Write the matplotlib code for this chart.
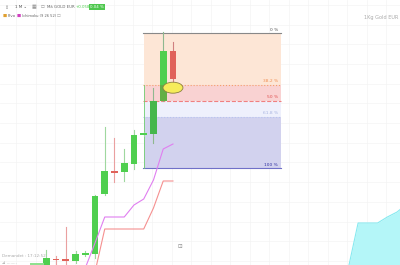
import matplotlib
matplotlib.use('Agg')
import numpy as np
from matplotlib import pyplot as plt
from matplotlib.patches import Ellipse, Rectangle

# candles (index, open, high, low, close)
bar_idx = list(range(14))
opens  = [1647, 1656.5, 1656, 1654, 1660, 1661, 1721, 1744, 1743, 1751, 1779.7, 1781, 1814, 1864]
highs  = [1665, 1659, 1688, 1664, 1664, 1720, 1788, 1777, 1766, 1785, 1783, 1827, 1883, 1873]
lows   = [1645, 1650, 1646, 1652, 1659, 1657, 1720, 1733, 1734, 1746, 1779, 1772, 1814, 1828]
closes = [1657, 1655, 1654, 1661, 1662, 1719, 1744, 1742.5, 1752, 1780, 1782, 1814, 1864, 1836]

# ichimoku lines
tenkan_idx = [4, 5, 6, 7, 8, 9, 10, 11, 12, 13]
tenkan = [1647, 1672, 1698, 1698, 1698, 1710, 1716, 1735, 1766, 1771]
kijun_idx = [5, 6, 7, 8, 9, 10, 11, 12, 13]
kijun = [1643, 1686, 1686, 1686, 1686, 1686, 1707, 1734, 1734]
cloud_idx = [31, 32, 33, 34, 35, 36, 37]
cloud_top = [1647, 1692, 1692, 1692, 1698, 1703, 1711]

# fibonacci retracement
fib_top, fib_bottom = 1881.7, 1746.7
fib_x0, fib_x1 = 10.0, 24.1
fib_levels = [0, 0.382, 0.5, 0.618, 1.0]
fib_labels = ['0 %', '38.2 %', '50 %', '61.8 %', '100 %']
fib_line_colors = ['#888888', '#f4a06a', '#f08080', '#b8c4ee', '#7070c8']
fib_text_colors = ['#555555', '#f08c50', '#e05050', '#a8b4e0', '#3030a0']
fib_zone_colors = ['#fde6d6', '#f9d2d2', '#eef0fc', '#d2d2ee']

fig = plt.figure(figsize=(4, 2.65), dpi=100)
ax = fig.add_axes([0, 0, 1, 1])
ax.set_xlim(-4.75, 36.3)
ax.set_ylim(1650, 1915)
ax.set_axis_off()

# grid
for gx in np.arange(-5.1, 37, 2.0):
    ax.axvline(gx, color='#f4f4f4', lw=0.5, zorder=0)
for gy in np.arange(1654, 1916, 19.7):
    ax.axhline(gy, color='#f4f4f4', lw=0.5, zorder=0)

# fib zones
prices = [fib_top - r * (fib_top - fib_bottom) for r in fib_levels]
for k in range(4):
    ax.add_patch(Rectangle((fib_x0, prices[k + 1]), fib_x1 - fib_x0, prices[k] - prices[k + 1],
                           facecolor=fib_zone_colors[k], edgecolor='none', zorder=1))
styles = ['-', ':', '--', ':', '-']
for p, col, st, lab, tc in zip(prices, fib_line_colors, styles, fib_labels, fib_text_colors):
    ax.plot([fib_x0 - 0.1, fib_x1], [p, p], color=col, lw=0.8, ls=st, zorder=2)
    ax.text(fib_x1 - 0.3, p + 1.5, lab, color=tc, fontsize=3.2, ha='right', va='bottom', zorder=7)
ax.plot([fib_x0, fib_x0], [fib_bottom, fib_top - 0.382 * (fib_top - fib_bottom)],
        color='#6fcf6f', lw=0.6, zorder=2)

# candles
for i, o, h, l, c in zip(bar_idx, opens, highs, lows, closes):
    up = c >= o
    body = '#4fcf4f' if up else '#e0625a'
    wick = '#9fd89f' if up else '#eaa0a0'
    if i >= 11:
        wick = '#8fb88f' if up else '#d08080'
    ax.plot([i, i], [l, h], color=wick, lw=0.8, zorder=3)
    ax.add_patch(Rectangle((i - 0.35, min(o, c)), 0.7, max(abs(c - o), 1.2),
                           facecolor=body, edgecolor='none', zorder=4))
# darker part of bodies inside the lower zones
ax.add_patch(Rectangle((11 - 0.35, opens[11]), 0.7, closes[11] - opens[11],
                       facecolor='#3a9a4a', alpha=0.45, edgecolor='none', zorder=5))
ax.add_patch(Rectangle((12 - 0.35, opens[12]), 0.7, prices[1] - opens[12],
                       facecolor='#7a8a3a', alpha=0.45, edgecolor='none', zorder=5))

# ichimoku
ax.plot(tenkan_idx, tenkan, color='#e07ef0', lw=0.8, zorder=4)
ax.plot(kijun_idx, kijun, color='#f59090', lw=0.8, zorder=4)
ax.fill_between(cloud_idx, 1600, cloud_top, color='#b4f6f8', zorder=1, lw=0)
ax.plot(cloud_idx, cloud_top, color='#86eaf0', lw=0.8, zorder=1)

# marker ellipse
ax.add_patch(Ellipse((13.0, 1827.3), 2.05, 11, facecolor='#f6ec5a', edgecolor='#8a8040',
                     lw=0.6, zorder=8))

# toolbar texts
fig.text(0.012, 0.982, '⇕', fontsize=3.5, color='#888888', va='top')
fig.text(0.038, 0.98, '1 M ⌄', fontsize=3, color='#555555', va='top')
fig.text(0.08, 0.985, '▦', fontsize=3.5, color='#888888', va='top')
fig.text(0.102, 0.983, '☐', fontsize=3, color='#888888', va='top')
fig.text(0.118, 0.98, 'Mã GOLD EUR', fontsize=2.8, color='#666666', va='top')
fig.text(0.188, 0.98, '+0.058', fontsize=2.8, color='#4fcf4f', va='top')
fig.text(0.226, 0.982, '0.04 %', fontsize=2.8, color='white', va='top',
         bbox=dict(boxstyle='square,pad=0.25', fc='#4fc84f', ec='none'))
fig.text(0.006, 0.948, '■', fontsize=3.2, color='#e0a030', va='top')
fig.text(0.02, 0.946, 'Pivo', fontsize=2.8, color='#666666', va='top')
fig.text(0.042, 0.948, '■', fontsize=3.2, color='#d040c0', va='top')
fig.text(0.056, 0.946, 'Ichimoku (9 26 52)', fontsize=2.6, color='#666666', va='top')
fig.text(0.142, 0.948, '☐', fontsize=3, color='#999999', va='top')
fig.text(0.997, 0.945, '1Kg Gold EUR', fontsize=3.6, color='#aaaaaa', va='top', ha='right')

# bottom left texts
fig.text(0.005, 0.025, 'Demandet : 17:12:52', fontsize=3, color='#aaaaaa', va='bottom')
fig.text(0.005, 0.0, '⊿ ........', fontsize=3, color='#999999', va='bottom')
fig.add_artist(Rectangle((0.075, 0.0), 0.035, 0.008, transform=fig.transFigure,
                         facecolor='#8fe08f', edgecolor='none'))
fig.text(0.445, 0.062, '⊡', fontsize=4, color='#888888', va='bottom')

plt.savefig('out.png', dpi=100)
